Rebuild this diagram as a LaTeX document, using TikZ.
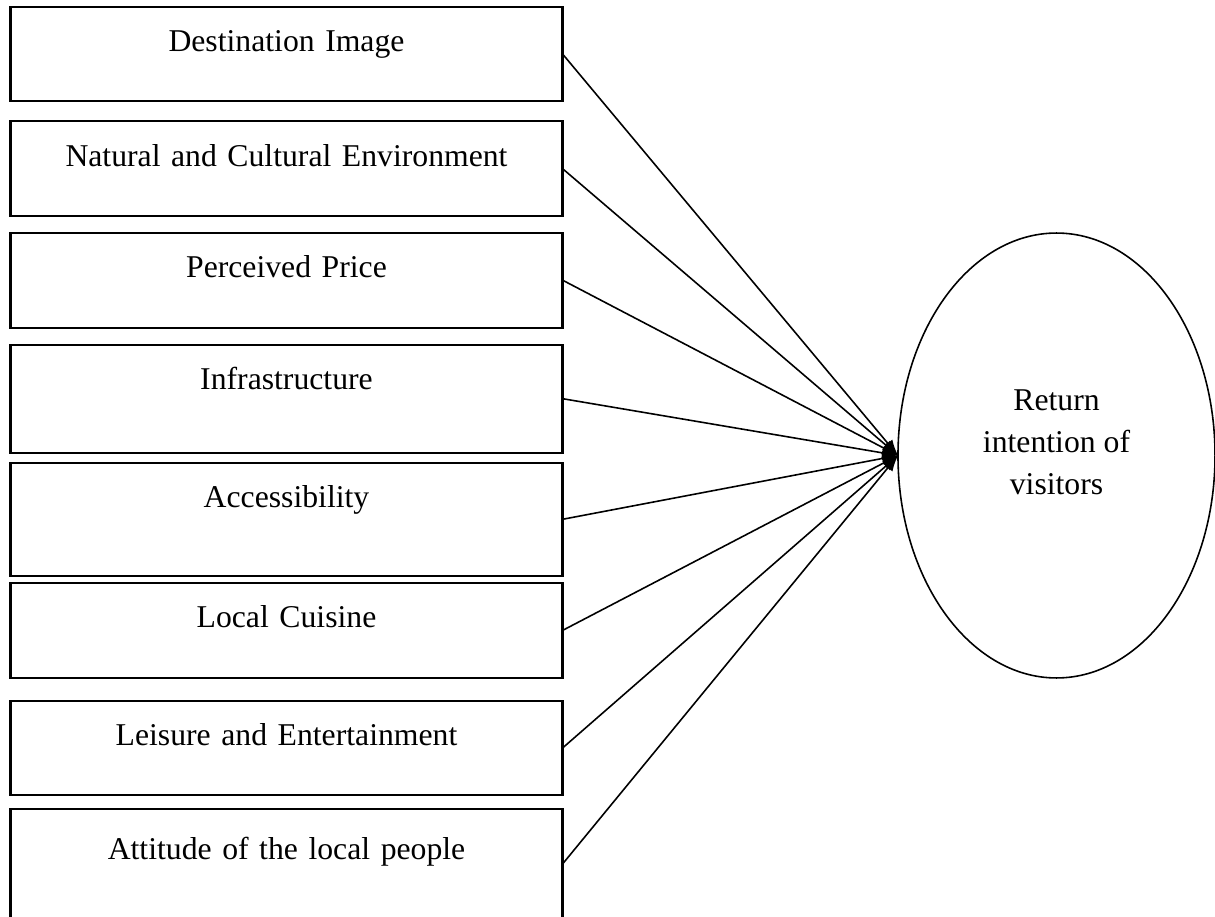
\documentclass[tikz,border=0pt,12pt]{standalone}
\usepackage{fontspec}
\setmainfont{Liberation Serif}
\usetikzlibrary{positioning, shapes.geometric, arrows.meta}
\tikzset{
  factor/.style={draw, line width=0.85pt, inner sep=0pt, outer sep=0pt,
                 text width=209pt, align=center, text height=17pt},
  link/.style={line width=0.6pt, -{Latex[length=6pt, width=4.5pt]}}
}

\begin{document}
\begin{tikzpicture}[x=0.3785pt, y=-0.3785pt]
  \useasboundingbox (0,0) rectangle (1215,917);
  % ── Box 1: Destination Image ──
  \node[factor, text depth=18.6pt, anchor=north] (b1) at (286.5,7) {Destination Image};
  % ── Box 2: Environment ──
  \node[factor, text depth=19pt, below=7.6pt of b1] (b2) {Natural and Cultural Environment};
  % ── Box 3: Price ──
  \node[factor, text depth=19pt, below=6.2pt of b2] (b3) {Perceived Price};
  % ── Box 4: Infrastructure ──
  \node[factor, text depth=23.9pt, below=6.4pt of b3] (b4) {Infrastructure};
  % ── Box 5: Accessibility ──
  \node[factor, text depth=25.8pt, below=3.8pt of b4] (b5) {Accessibility};
  % ── Box 6: Cuisine ──
  \node[factor, text depth=19pt, below=2.65pt of b5] (b6) {Local Cuisine};
  % ── Box 7: Leisure ──
  \node[factor, text depth=18.6pt, below=8.7pt of b6] (b7) {Leisure and Entertainment};
  % ── Box 8: Attitude ──
  \node[factor, text height=19.3pt, text depth=22.3pt, below=5.3pt of b7] (b8) {Attitude of the local people};
  % ── Outcome ──
  \node[draw, ellipse, line width=0.6pt, inner sep=0pt, outer sep=0pt,
        minimum width=120pt, minimum height=168.4pt] (ret) at (1056.5,455.5) {};
  \node[align=center, font=\fontsize{12}{16}\selectfont] (retlbl)
        at ([yshift=5pt]ret.center) {Return\\intention of\\visitors};
  % ── Links ──
  \foreach \b in {b1,b2,b3,b4,b5,b6,b7,b8}
    \draw[link] (\b.east) -- (ret.west);
\end{tikzpicture}
\end{document}
